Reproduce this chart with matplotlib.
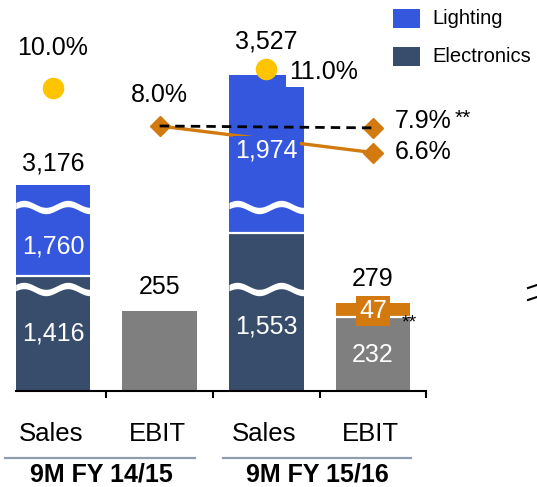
import matplotlib
matplotlib.use("Agg")
import matplotlib.pyplot as plt
import numpy as np
import matplotlib.transforms as mtransforms
from matplotlib.patches import Rectangle
from matplotlib.lines import Line2D

plt.rcParams['font.family'] = ['Liberation Sans', 'DejaVu Sans']

# ---------------- data ----------------
periods = ["9M FY 14/15", "9M FY 15/16"]
columns = ["Sales", "EBIT", "Sales", "EBIT"]
electronics = [1416, 1553]
lighting = [1760, 1974]
sales_total = [3176, 3527]
ebit_base = [255, 232]
ebit_extra = [0, 47]
ebit_total = [255, 279]
dot_margin = [10.0, 11.0]
ebit_margin = [8.0, 6.6]
ebit_margin_adj = [8.0, 7.9]
series_names = ["Lighting", "Electronics"]

# ---------------- style ----------------
C_LIGHT = "#3457DE"
C_ELEC = "#384D6C"
C_GRAY = "#7F7F7F"
C_ORANGE = "#D27A0F"
C_YELLOW = "#FFC400"
C_SEP = "#8C9DAE"

ELEC_CUT = 1050   # broken-bar cut for electronics segment
LIGHT_CUT = 1470  # broken-bar cut for lighting segment

W, H, DPI = 537, 487, 100
fig = plt.figure(figsize=(W / DPI, H / DPI), dpi=DPI)
base_px = 391
ax = fig.add_axes([0, (H - base_px) / H, 1, base_px / H])
px_per_unit = 0.314
ax.set_ylim(0, base_px / px_per_unit)
x0_px, step_px = 53, 106.67
ax.set_xlim(-x0_px / step_px, (W - x0_px) / step_px)
upx = 1 / px_per_unit  # data units per pixel

sales_x = np.array([0, 2])
ebit_x = np.array([1, 3])
bw = 0.7

elec_disp = np.array(electronics) - ELEC_CUT
light_disp = np.array(lighting) - LIGHT_CUT

ax.bar(sales_x, elec_disp, bw, color=C_ELEC, zorder=2, linewidth=0)
ax.bar(sales_x, light_disp, bw, bottom=elec_disp, color=C_LIGHT, zorder=2, linewidth=0)
ax.hlines(elec_disp, sales_x - bw / 2, sales_x + bw / 2, color="white", lw=1.6, zorder=3)

ax.bar(ebit_x, ebit_base, bw, color=C_GRAY, zorder=2, linewidth=0)
ax.bar(ebit_x, ebit_extra, bw, bottom=ebit_base, color=C_ORANGE, zorder=2, linewidth=0)
for xx, b, e in zip(ebit_x, ebit_base, ebit_extra):
    if e > 0:
        ax.hlines(b + 1.5 * upx, xx - bw / 2, xx + bw / 2, color="white", lw=1.6, zorder=3)

# wavy break marks
def wave_break(xc, yc):
    xs = np.linspace(xc - bw / 2, xc + bw / 2, 200)
    amp = 3.5 * upx
    half = 3.2 * upx
    ys = yc + amp * np.sin(2 * np.pi * 1.7 * (xs - xs[0]) / bw + 0.4)
    ax.fill_between(xs, ys - half, ys + half, color="white", lw=0, zorder=3)

for xc in sales_x:
    wave_break(xc, 102 * upx)
    wave_break(xc, 184 * upx)

# axis
for s in ["top", "left", "right"]:
    ax.spines[s].set_visible(False)
ax.spines["bottom"].set_bounds(-0.35, 3.5)
ax.spines["bottom"].set_linewidth(1.5)
ax.set_xticks([0.5, 1.5, 2.5, 3.5])
ax.set_xticklabels([])
ax.tick_params(axis="x", direction="out", length=5, width=1.5, colors="black")
ax.set_yticks([])

FS = 18

def lab(axis, x, y, s, dx=0, dy=0, color="black", ha="center", **kw):
    return axis.annotate(s, xy=(x, y), xytext=(dx, dy), textcoords="offset pixels",
                         ha=ha, va="center", fontsize=kw.pop("fontsize", FS), color=color, **kw)

# value labels in bars
elec_frac = [0.5, 0.41]
light_frac = [0.33, 0.52]
for i, xx in enumerate(sales_x):
    lab(ax, xx, elec_disp[i] * elec_frac[i], f"{electronics[i]:,}", color="white", zorder=5)
    if i == 0:
        lab(ax, xx, elec_disp[i] + light_disp[i] * light_frac[i], f"{lighting[i]:,}",
            color="white", zorder=5)
top_off = [22, 33]
for i, xx in enumerate(sales_x):
    lab(ax, xx, elec_disp[i] + light_disp[i], f"{sales_total[i]:,}", dy=top_off[i], zorder=5)

for i, xx in enumerate(ebit_x):
    lab(ax, xx, ebit_total[i], f"{ebit_total[i]:,}", dy=24, zorder=5)
lab(ax, ebit_x[1], ebit_base[1] / 2, f"{ebit_base[1]}", color="white", zorder=5)
lab(ax, ebit_x[1], ebit_base[1] + ebit_extra[1] / 2, f"{ebit_extra[1]}", color="white", zorder=5,
    bbox=dict(boxstyle="square,pad=0.12", fc=C_ORANGE, ec="none"))
lab(ax, ebit_x[1], ebit_base[1], "**", dx=36, dy=-5, fontsize=14, zorder=5)

# margins on secondary scale
ax2 = ax.twinx()
ax2.set_ylim(-5.947, 14.63)
ax2.set_xlim(ax.get_xlim())
ax2.axis("off")

ax2.plot(ebit_x, ebit_margin, color=C_ORANGE, lw=2.4, zorder=3)
ax2.plot(ebit_x, ebit_margin, "D", color=C_ORANGE, ms=10, zorder=3.5)
ax2.plot(ebit_x[1:], ebit_margin_adj[1:], "D", color=C_ORANGE, ms=10, zorder=3.5)
ax2.plot(ebit_x, ebit_margin_adj, color="black", lw=2.0, ls=(0, (3.4, 2.2)), zorder=5)
ax2.plot(sales_x, dot_margin, "o", color=C_YELLOW, ms=14.5, ls="none", zorder=6)

# 1,974 label covering the orange line
i = 1
light_lab_y = elec_disp[i] + light_disp[i] * light_frac[i]
ax2.annotate(f"{lighting[i]:,}", xy=(sales_x[i], light_lab_y), xycoords=ax.transData,
             ha="center", va="center", fontsize=FS, color="white", zorder=4,
             bbox=dict(boxstyle="square,pad=0.1", fc=C_LIGHT, ec="none"))

lab(ax2, sales_x[0], dot_margin[0], f"{dot_margin[0]:.1f}%", dy=40, zorder=6)
lab(ax2, sales_x[1], dot_margin[1], f"{dot_margin[1]:.1f}%", dx=23, dy=-3, ha="left", zorder=4,
    bbox=dict(boxstyle="square,pad=0.12", fc="white", ec="none"))
lab(ax2, ebit_x[0], ebit_margin[0], f"{ebit_margin[0]:.1f}%", dy=31, zorder=6)
lab(ax2, ebit_x[1], ebit_margin_adj[1], f"{ebit_margin_adj[1]:.1f}%", dx=22, dy=7, ha="left", zorder=6)
lab(ax2, ebit_x[1], ebit_margin_adj[1], "**", dx=82, dy=10, ha="left", fontsize=15, zorder=6)
lab(ax2, ebit_x[1], ebit_margin[1], f"{ebit_margin[1]:.1f}%", dx=22, dy=1, ha="left", zorder=6)

# category labels
trans = mtransforms.blended_transform_factory(ax.transData, ax.transAxes)
for xx, c in zip(range(4), columns):
    ax.text(xx - 0.02, -43 / base_px, c, transform=trans, ha="center", va="center", fontsize=18.5)
group_x = [0.45, 2.48]
for gx, p in zip(group_x, periods):
    ax.text(gx, -84 / base_px, p, transform=trans, ha="center", va="center",
            fontsize=18, fontweight="bold")
sep_ranges = [(-0.45, 1.33), (1.59, 3.36)]
for a, b in sep_ranges:
    ax.plot([a, b], [-67 / base_px] * 2, transform=trans, color=C_SEP, lw=1.6, clip_on=False)

# legend
for (name, col, ytop) in [(series_names[0], C_LIGHT, 9), (series_names[1], C_ELEC, 47)]:
    fig.add_artist(Rectangle((393 / W, 1 - (ytop + 19) / H), 27 / W, 19 / H,
                             transform=fig.transFigure, color=col, lw=0))
    fig.text(432 / W, 1 - (ytop + 10) / H, name, ha="left", va="center", fontsize=14.5)

# small marks at right edge
for y1 in [288, 300]:
    fig.add_artist(Line2D([528 / W, 537 / W], [1 - y1 / H, 1 - (y1 - 3) / H],
                          transform=fig.transFigure, color="black", lw=1.5))

fig.savefig("out.png", dpi=DPI)
